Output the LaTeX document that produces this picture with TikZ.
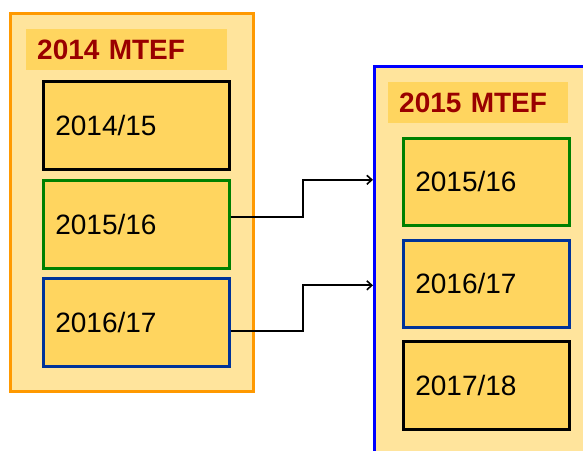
\documentclass[tikz,border=0pt]{standalone}
\usepackage{fontspec}
\setmainfont{Liberation Sans}
\usetikzlibrary{arrows.meta,calc}
\definecolor{paleY}{HTML}{FFE49C}
\definecolor{goldY}{HTML}{FFD55F}
\definecolor{titleRed}{HTML}{990000}
\definecolor{orangeB}{HTML}{FF9900}
\definecolor{blueB}{HTML}{0000FF}
\definecolor{greenB}{HTML}{008000}
\definecolor{navyB}{HTML}{003399}
\begin{document}
\begin{tikzpicture}[x=1pt,y=-1pt,
  outerbox/.style={draw=#1, line width=3pt, fill=paleY, anchor=north west, inner sep=0pt},
  titleband/.style={fill=goldY, anchor=north west, inner xsep=11pt, inner ysep=0pt,
     minimum height=41pt, text width=#1, align=left,
     font=\fontsize{28}{30}\selectfont\bfseries, text=titleRed},
  yearbox/.style={draw=#1, line width=2.6pt, fill=goldY, anchor=north west,
     inner xsep=12pt, inner ysep=0pt, minimum height=88pt, align=left,
     font=\fontsize{28}{30}\selectfont},
  link/.style={line width=1.8pt, -{Straight Barb[length=5pt,width=9pt,line width=1.6pt]}}
]
\useasboundingbox (0,0) rectangle (583,450);
\clip (0,0) rectangle (583,450);
% left column
\node[outerbox=orangeB, minimum width=243pt, minimum height=378pt] (L) at (9,12) {};
\node[titleband=179pt] (Lt) at (26,29) {2014 MTEF};
\node[yearbox=black, text width=162pt] (l1415) at (42,80) {2014/15};
\node[yearbox=greenB, text width=162pt] (l1516) at (42,179) {2015/16};
\node[yearbox=navyB, text width=162pt] (l1617) at (42,277) {2016/17};
% right column
\node[outerbox=blueB, minimum width=240pt, minimum height=410pt] (R) at (373,65) {};
\node[titleband=158pt] (Rt) at (388,82) {2015 MTEF};
\node[yearbox=greenB, text width=142pt, minimum height=87pt] (r1516) at (402,137) {2015/16};
\node[yearbox=navyB, text width=142pt, minimum height=87pt] (r1617) at (402,239) {2016/17};
\node[yearbox=black, text width=142pt, minimum height=88pt] (r1718) at (402,340) {2017/18};
% connectors
\draw[link] ([yshift=7pt]l1516.east) -- ++(72,0) |- ([yshift=2pt]R.west |- r1516.west);
\draw[link] ([yshift=-9pt]l1617.east) -- ++(72,0) |- ([yshift=-1.5pt]R.west |- r1617.west);
\end{tikzpicture}
\end{document}
